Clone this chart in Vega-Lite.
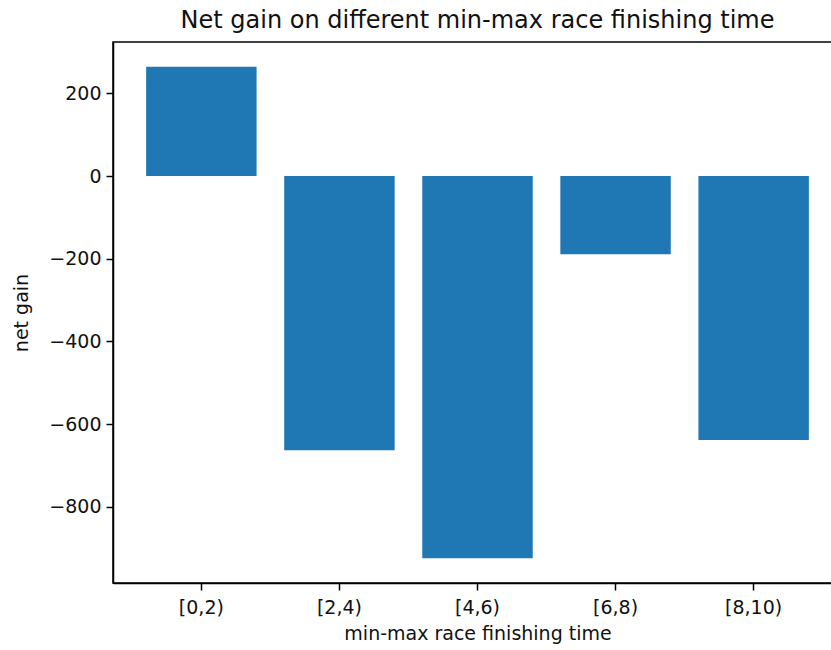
{
  "$schema": "https://vega.github.io/schema/vega-lite/v6.json",
  "autosize": "none",
  "padding": {"left": 113, "top": 42, "right": 0, "bottom": 67},
  "width": 729,
  "height": 541,
  "background": "white",
  "title": {"text": "Net gain on different min-max race finishing time", "font": "DejaVu Sans", "fontSize": 24, "fontWeight": "normal", "color": "#111", "offset": 9, "anchor": "middle"},
  "data": {"values": [
    {"range": "[0,2)", "gain": 264},
    {"range": "[2,4)", "gain": -663},
    {"range": "[4,6)", "gain": -924},
    {"range": "[6,8)", "gain": -189},
    {"range": "[8,10)", "gain": -638}
  ]},
  "mark": {"type": "bar", "color": "#1f77b4"},
  "encoding": {
    "x": {"field": "range", "type": "nominal", "sort": null,
      "scale": {"paddingInner": 0.2, "paddingOuter": 0.24},
      "axis": {"title": "min-max race finishing time", "labelAngle": 0}},
    "y": {"field": "gain", "type": "quantitative",
      "scale": {"domain": [-984, 324], "nice": false, "zero": false},
      "axis": {"title": "net gain", "values": [-800, -600, -400, -200, 0, 200], "labelExpr": "replace(datum.label, '-', '−')"}}
  },
  "config": {
    "view": {"stroke": "black", "strokeWidth": 1.5},
    "axis": {"grid": false, "domainColor": "black", "domainWidth": 1.5, "tickColor": "black", "tickWidth": 1.5, "tickSize": 7, "labelFont": "DejaVu Sans", "labelFontSize": 19, "labelColor": "#111", "labelPadding": 5, "titleFont": "DejaVu Sans", "titleFontSize": 19, "titleFontWeight": "normal", "titleColor": "#111"},
    "axisX": {"labelPadding": 8, "titlePadding": 7},
    "axisY": {"titlePadding": 17}
  }
}
